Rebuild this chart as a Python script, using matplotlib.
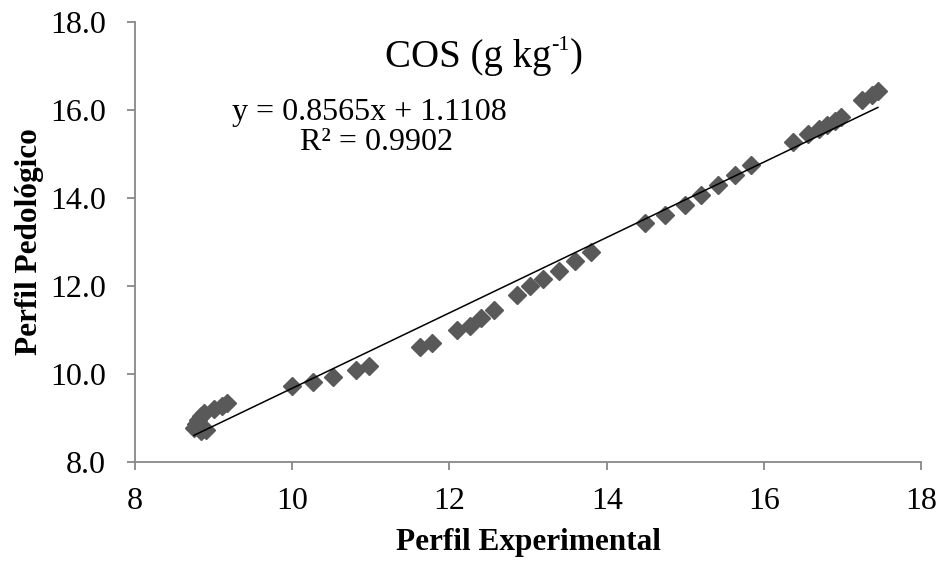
import matplotlib
matplotlib.use("Agg")
import matplotlib.pyplot as plt
import numpy as np

x_exp = [8.75, 8.78, 8.80, 8.84, 8.88, 8.84, 8.90, 9.00, 9.10, 9.17,
         10.00, 10.26, 10.52, 10.81, 10.98,
         11.63, 11.78, 12.10, 12.26, 12.40, 12.57,
         12.86, 13.03, 13.19, 13.39, 13.60, 13.80,
         14.49, 14.74, 15.00, 15.20, 15.42, 15.63, 15.83,
         16.37, 16.56, 16.70, 16.80, 16.90, 16.98, 17.25, 17.38, 17.45]
y_ped = [8.77, 8.86, 8.95, 9.05, 9.12, 8.70, 8.72, 9.20, 9.28, 9.35,
         9.72, 9.82, 9.93, 10.09, 10.18,
         10.61, 10.70, 11.00, 11.10, 11.27, 11.45,
         11.80, 12.00, 12.15, 12.35, 12.57, 12.77,
         13.42, 13.62, 13.85, 14.07, 14.30, 14.52, 14.74,
         15.28, 15.46, 15.57, 15.66, 15.75, 15.84, 16.22, 16.34, 16.42]

slope = 0.8565
intercept = 1.1108
r2 = 0.9902

x_ticks = [8, 10, 12, 14, 16, 18]
y_ticks = [8.0, 10.0, 12.0, 14.0, 16.0, 18.0]

plt.rcParams['font.family'] = ['Liberation Serif', 'DejaVu Serif']

fig = plt.figure(figsize=(9.38, 5.62), dpi=100)
ax = fig.add_axes([0.144, 0.178, 0.838, 0.783])

ax.plot(x_exp, y_ped, linestyle='none', marker='D', markersize=9.5,
        color='#595959', zorder=2)
xl = np.array([min(x_exp), max(x_exp)])
ax.plot(xl, slope * xl + intercept, color='black', linewidth=1.1, zorder=3)

ax.set_xlim(8, 18)
ax.set_ylim(8, 18)
ax.set_xticks(x_ticks)
ax.set_xticklabels([str(t) for t in x_ticks])
ax.set_yticks(y_ticks)
ax.set_yticklabels([f"{t:.1f}" for t in y_ticks])

for s in ['top', 'right']:
    ax.spines[s].set_visible(False)
for s in ['left', 'bottom']:
    ax.spines[s].set_color('#888888')
    ax.spines[s].set_linewidth(1.3)
ax.tick_params(axis='both', direction='out', length=6, width=1.3,
               color='#888888', labelsize=23, labelcolor='black')
ax.tick_params(axis='x', pad=12)
ax.tick_params(axis='y', pad=15)

ax.set_xlabel('Perfil Experimental', fontsize=22.5, fontweight='bold', labelpad=9)
ax.set_ylabel('Perfil Pedológico', fontsize=22.5, fontweight='bold', labelpad=4)

# Title with superscript built from pieces
t1 = ax.text(0.318, 0.92, 'COS (g kg', transform=ax.transAxes,
             fontsize=28, ha='left', va='center')
fig.canvas.draw()
r = fig.canvas.get_renderer()
bb = t1.get_window_extent(r)
t2 = fig.text(bb.x1 / fig.bbox.width, (bb.y0 + bb.height * 0.55) / fig.bbox.height,
              '-1', fontsize=16, ha='left', va='bottom')
bb2 = t2.get_window_extent(r)
fig.text(bb2.x1 / fig.bbox.width, (bb.y0 + bb.height / 2) / fig.bbox.height,
         ')', fontsize=28, ha='left', va='center')

ax.text(0.123, 0.795, f'y = {slope}x + {intercept}', transform=ax.transAxes,
        fontsize=23, ha='left', va='center')
ax.text(0.21, 0.726, f'R² = {r2}', transform=ax.transAxes,
        fontsize=23, ha='left', va='center')

fig.savefig('out.png', dpi=100)
